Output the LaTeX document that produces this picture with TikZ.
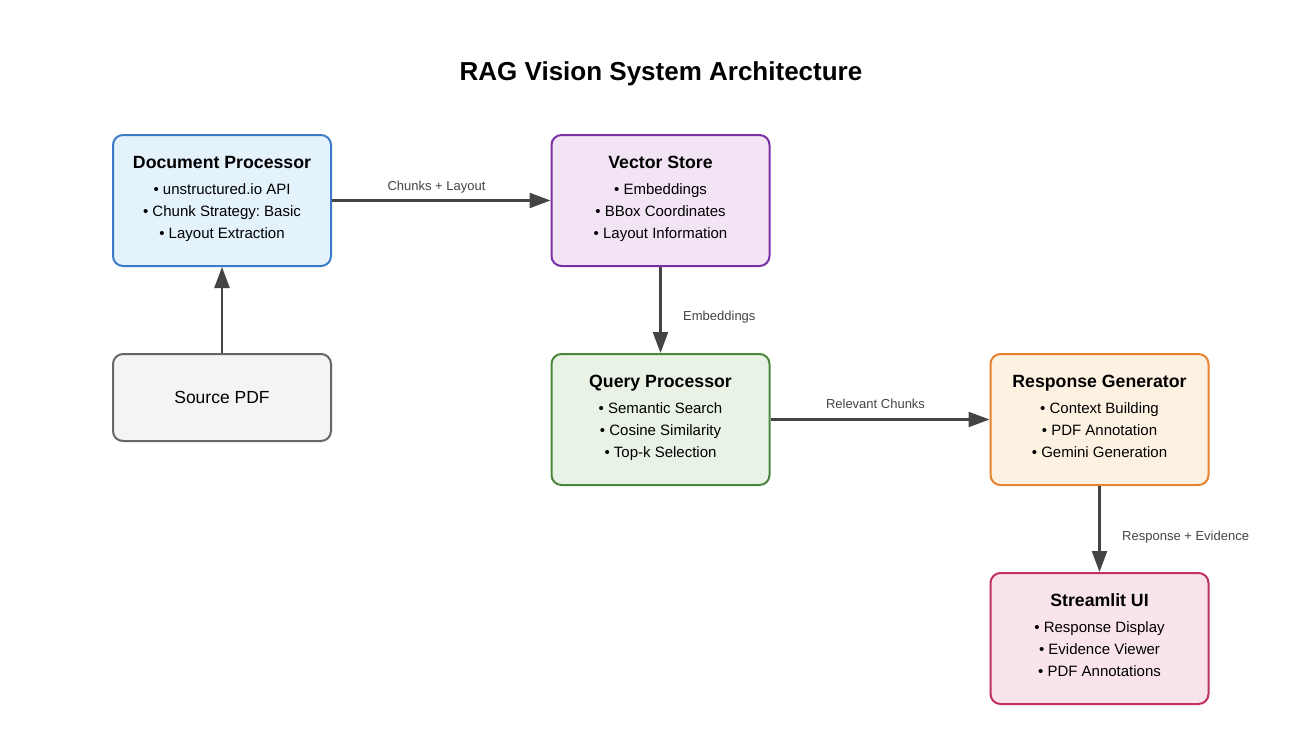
\documentclass[tikz,border=0pt]{standalone}
\usepackage{fontspec}
\setmainfont{Liberation Sans}
\frenchspacing
\usetikzlibrary{arrows.meta}
\definecolor{edgec}{HTML}{444444}
\definecolor{bluebd}{HTML}{3A7BC8}\definecolor{bluefl}{HTML}{E4F2FC}
\definecolor{purpbd}{HTML}{7B2FA5}\definecolor{purpfl}{HTML}{F2E4F4}
\definecolor{graybd}{HTML}{666666}\definecolor{grayfl}{HTML}{F4F4F4}
\definecolor{grenbd}{HTML}{4A873D}\definecolor{grenfl}{HTML}{E8F3E6}
\definecolor{orngbd}{HTML}{E8822E}\definecolor{orngfl}{HTML}{FDF2E1}
\definecolor{pinkbd}{HTML}{C2305F}\definecolor{pinkfl}{HTML}{F8E4EA}
\tikzset{
  procbox/.style={draw, line width=2pt, rounded corners=10pt, minimum width=218pt, minimum height=131pt, inner sep=0pt},
  srcbox/.style={procbox, minimum height=87pt},
  boxtitle/.style={anchor=base, inner sep=0pt, font=\fontsize{17.7}{21}\selectfont\bfseries},
  boxitem/.style={anchor=base, inner sep=0pt, font=\fontsize{15}{18}\selectfont},
  edgelabel/.style={anchor=base, inner sep=0pt, text=edgec, font=\fontsize{13}{15}\selectfont},
  flow/.style={draw=edgec, line width=2.3pt, -{Triangle[length=21pt,width=15pt]}},
}
\newcommand{\mkbox}[9]{%
  \node[procbox, draw=#4bd, fill=#4fl] (#1) at (#2,#3) {};
  \node[boxtitle] (#1-t) at (#2,#3-32.5) {#5};
  \node[boxitem] (#1-a) at (#2,#3-6.1) {• #6};
  \node[boxitem] (#1-b) at (#2,#3+15.9) {• #7};
  \node[boxitem] (#1-c) at (#2,#3+37.9) {• #8};
}
\begin{document}
\begin{tikzpicture}[x=1pt,y=-1pt]
\useasboundingbox[fill=white] (0,0) rectangle (1301,742);
\node[anchor=base, inner sep=0pt, font=\fontsize{26}{30}\selectfont\bfseries] (title) at (661,80.3) {RAG Vision System Architecture};

\mkbox{doc}{222}{200.5}{blue}{Document Processor}{unstructured.io API}{Chunk Strategy: Basic}{Layout Extraction}{}
\mkbox{vec}{660.5}{200.5}{purp}{Vector Store}{Embeddings}{BBox Coordinates}{Layout Information}{}
\mkbox{qry}{660.5}{419.5}{gren}{Query Processor}{Semantic Search}{Cosine Similarity}{Top-k Selection}{}
\mkbox{resp}{1099.5}{419.5}{orng}{Response Generator}{Context Building}{PDF Annotation}{Gemini Generation}{}
\mkbox{ui}{1099.5}{638.5}{pink}{Streamlit UI}{Response Display}{Evidence Viewer}{PDF Annotations}{}

\node[srcbox, draw=graybd, fill=grayfl] (src) at (222,397.5) {};
\node[anchor=base, inner sep=0pt, font=\fontsize{17.5}{21}\selectfont] (src-t) at (222,403.5) {Source PDF};

\draw[flow] (src.north) -- (doc.south);
\draw[flow] (doc.east) -- (vec.west);
\draw[flow] (vec.south) -- (qry.north);
\draw[flow] (qry.east) -- (resp.west);
\draw[flow] (resp.south) -- (ui.north);

\node[edgelabel] (l1) at (436.5,190.7) {Chunks + Layout};
\node[edgelabel, anchor=base west] (l2) at (683,320.7) {Embeddings};
\node[edgelabel] (l3) at (875.5,408.7) {Relevant Chunks};
\node[edgelabel, anchor=base west] (l4) at (1122,540.7) {Response + Evidence};
\end{tikzpicture}
\end{document}
